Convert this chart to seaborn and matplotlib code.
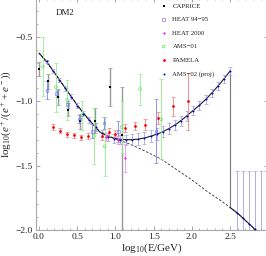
import numpy as np
import pandas as pd
import matplotlib
matplotlib.use("Agg")
import matplotlib.pyplot as plt
import seaborn as sns

# ---------------- data (log10 E [GeV], log10 positron fraction) ----------------
caprice_x = [0.00, 0.12, 0.25, 0.38, 0.54, 0.73, 0.93, 1.08]
caprice_y = [-0.75, -0.845, -0.97, -1.065, -1.155, -1.15, -0.89, -1.26]
caprice_lo = [0.057, 0.058, 0.062, 0.052, 0.06, 0.097, 0.148, 0.80]
caprice_hi = [0.057, 0.058, 0.062, 0.052, 0.06, 0.097, 0.148, 0.37]

heat94_x = [0.105, 0.23, 0.375, 0.53, 0.70, 0.85, 1.04, 1.53]
heat94_y = [-0.915, -0.94, -1.025, -1.137, -1.233, -1.168, -1.233, -1.233]
heat94_err = [0.07, 0.03, 0.026, 0.03, 0.055, 0.045, 0.08, 0.25]

heat00_x = [0.88, 1.04, 1.13]
heat00_y = [-1.28, -1.30, -1.44]
heat00_err = [0.03, 0.03, 0.11]

ams01_x = [0.05, 0.22, 0.37, 0.56, 0.72, 0.86, 1.08, 1.32, 1.60]
ams01_y = [-0.73, -0.89, -0.99, -1.11, -1.27, -1.35, -1.20, -0.905, -1.14]
ams01_err = [0.23, 0.19, 0.155, 0.11, 0.22, 0.23, 0.20, 0.12, 0.31]

pamela_x = [0.19, 0.275, 0.365, 0.455, 0.55, 0.64, 0.82, 0.92, 0.995, 1.126, 1.257, 1.387, 1.56, 1.75, 1.955]
pamela_y = [-1.20, -1.23, -1.255, -1.265, -1.28, -1.27, -1.272, -1.241, -1.251, -1.207, -1.189, -1.181, -1.13, -1.04, -1.0]
pamela_err = [0.02, 0.02, 0.02, 0.02, 0.02, 0.02, 0.03, 0.03, 0.03, 0.03, 0.03, 0.04, 0.05, 0.075, 0.22]

ams02_x = [0.10, 0.18, 0.26, 0.34, 0.42, 0.50, 0.58, 0.66, 0.74, 0.82, 0.90, 0.98,
           1.06, 1.14, 1.22, 1.30, 1.38, 1.46, 1.54, 1.62, 1.70, 1.78, 1.86, 1.94,
           2.02, 2.10, 2.18, 2.26, 2.34, 2.42, 2.50,
           2.59, 2.67, 2.75, 2.83, 2.90, 2.97]
ams02_y = [-0.69, -0.765, -0.835, -0.90, -0.965, -1.035, -1.095, -1.145, -1.20, -1.25, -1.275, -1.29,
           -1.297, -1.298, -1.298, -1.294, -1.285, -1.27, -1.254, -1.235, -1.212, -1.185, -1.153, -1.115,
           -1.072, -1.03, -0.985, -0.935, -0.88, -0.825, -0.765,
           -1.87, -1.91, -1.95, -1.99, -2.03, -2.07]
ams02_err = [0.015, 0.015, 0.018, 0.018, 0.02, 0.02, 0.022, 0.025, 0.028, 0.03, 0.032, 0.035,
             0.038, 0.04, 0.042, 0.045, 0.045, 0.045, 0.045, 0.045, 0.042, 0.04, 0.04, 0.038,
             0.036, 0.035, 0.033, 0.032, 0.03, 0.03, 0.03,
             0.33, 0.37, 0.41, 0.45, 0.49, 0.53]

total_x = [0.0, 0.1, 0.2, 0.3, 0.4, 0.5, 0.6, 0.7, 0.8, 0.9, 1.0, 1.1, 1.2, 1.3,
           1.4, 1.5, 1.6, 1.7, 1.8, 1.9, 2.0, 2.1, 2.2, 2.3, 2.4, 2.5]
total_y = [-0.625, -0.69, -0.775, -0.86, -0.945, -1.03, -1.105, -1.175, -1.24, -1.272, -1.29, -1.297,
           -1.298, -1.294, -1.282, -1.264, -1.242, -1.212, -1.175, -1.13, -1.08, -1.03, -0.975, -0.91,
           -0.84, -0.765]

bg_x = [0.0, 0.2, 0.4, 0.6, 0.8, 1.0, 1.2, 1.4, 1.6, 1.8, 2.0, 2.2, 2.4, 2.5, 2.6, 2.8, 2.83]
bg_y = [-0.625, -0.775, -0.945, -1.105, -1.24, -1.29, -1.335, -1.39, -1.45, -1.53, -1.61, -1.70,
        -1.78, -1.825, -1.87, -1.98, -2.0]

mass_cut = 2.5

legend_labels = ["CAPRICE", "HEAT 94\u221295", "HEAT 2000", "AMS\u221201", "PAMELA", "AMS\u221202 (proj)"]

# ---------------- figure ----------------
sns.set_theme(style="ticks")
plt.rcParams["font.family"] = ["Liberation Serif", "DejaVu Serif"]
plt.rcParams["mathtext.fontset"] = "custom"
plt.rcParams["mathtext.rm"] = "Liberation Serif"
plt.rcParams["mathtext.it"] = "Liberation Serif:italic"

fig = plt.figure(figsize=(2.66, 2.56), dpi=100)
ax = fig.add_axes([36 / 266, 26 / 256, 232 / 266, 232 / 256])

# curves
sns.lineplot(x=bg_x, y=bg_y, ax=ax, color="#333333", lw=0.6, linestyle=(0, (3, 2)), zorder=2)
bgx = np.array(bg_x); bgy = np.array(bg_y)
m = bgx >= mass_cut
sns.lineplot(x=bgx[m], y=bgy[m], ax=ax, color="#1a1a40", lw=0.8, zorder=3)
sns.lineplot(x=total_x, y=total_y, ax=ax, color="#1a1a40", lw=0.8, zorder=3)
ax.vlines(mass_cut, np.interp(mass_cut, bg_x, bg_y), total_y[-1], color="#777777", lw=0.8, zorder=2)

# error bars
ekw = dict(fmt="none", capsize=1.2, elinewidth=0.6, capthick=0.5)
ax.errorbar(ams02_x, ams02_y, yerr=ams02_err, ecolor="#a4a4dc", zorder=4, **ekw)
ax.errorbar(caprice_x, caprice_y, yerr=[caprice_lo, caprice_hi], ecolor="#999999", zorder=5,
            fmt="none", capsize=1.2, elinewidth=1.0, capthick=0.5)
ax.errorbar(heat94_x, heat94_y, yerr=heat94_err, ecolor="#8080ee", zorder=5, **ekw)
ax.errorbar(heat00_x, heat00_y, yerr=heat00_err, ecolor="#ee90ee", zorder=5, **ekw)
ax.errorbar(ams01_x, ams01_y, yerr=ams01_err, ecolor="#90ee90", zorder=5, **ekw)
ax.errorbar(pamela_x, pamela_y, yerr=pamela_err, ecolor="#ee8080", zorder=5, **ekw)

# markers
sns.scatterplot(x=caprice_x, y=caprice_y, ax=ax, marker="s", s=3, color="black", linewidth=0, zorder=6, label=legend_labels[0])
sns.scatterplot(x=heat94_x, y=heat94_y, ax=ax, marker="s", s=4, facecolor="none", edgecolor="#6666ff", linewidth=0.4, zorder=6, label=legend_labels[1])
sns.scatterplot(x=heat00_x, y=heat00_y, ax=ax, marker="o", s=2.5, color="#ff00ff", linewidth=0, zorder=6, label=legend_labels[2])
sns.scatterplot(x=ams01_x, y=ams01_y, ax=ax, marker="o", s=4, facecolor="none", edgecolor="#44dd44", linewidth=0.4, zorder=6, label=legend_labels[3])
sns.scatterplot(x=pamela_x, y=pamela_y, ax=ax, marker="o", s=4, color="#ff0000", linewidth=0, zorder=6, label=legend_labels[4])
sns.scatterplot(x=ams02_x, y=ams02_y, ax=ax, marker="o", s=2, color="#0000aa", linewidth=0, zorder=6, label=legend_labels[5])

ax.set_xlim(-0.039, 2.997)
ax.set_ylim(-2.0, -0.197)
ax.set_xticks([0.0, 0.5, 1.0, 1.5, 2.0, 2.5])
ax.set_xticks(np.arange(0.0, 3.0, 0.1), minor=True)
ax.set_yticks([-2.0, -1.5, -1.0, -0.5])
ax.set_yticks(np.arange(-2.0, -0.19, 0.1), minor=True)
ax.xaxis.set_major_formatter(matplotlib.ticker.FormatStrFormatter("%.1f"))
ax.yaxis.set_major_formatter(matplotlib.ticker.FuncFormatter(lambda v, p: ("\u2212%.1f" % abs(v)) if v < 0 else "%.1f" % v))
for s in ax.spines.values():
    s.set_color("#aaaaaa")
    s.set_linewidth(0.8)
ax.tick_params(which="both", direction="in", top=True, right=True, color="#999999", labelsize=6.8, labelcolor="#222222", pad=2)
ax.tick_params(which="major", length=3, width=0.6)
ax.tick_params(which="minor", length=1.5, width=0.5)

ax.set_xlabel("log$_{10}$(E/GeV)", fontsize=8, labelpad=0.5)
ax.set_ylabel("log$_{10}$($e^+/(e^+ + e^-)$)", fontsize=8, labelpad=2)
ax.text(0.085, 0.925, "DM2", transform=ax.transAxes, fontsize=6.5, color="#222222")

leg = ax.legend(loc="upper left", bbox_to_anchor=(0.515, 1.0), frameon=False, fontsize=4.9,
                labelspacing=1.15, handletextpad=0.8, handlelength=1.0, borderaxespad=0.3)
for t in leg.get_texts():
    t.set_color("#222222")

fig.savefig("out.png", dpi=100)
